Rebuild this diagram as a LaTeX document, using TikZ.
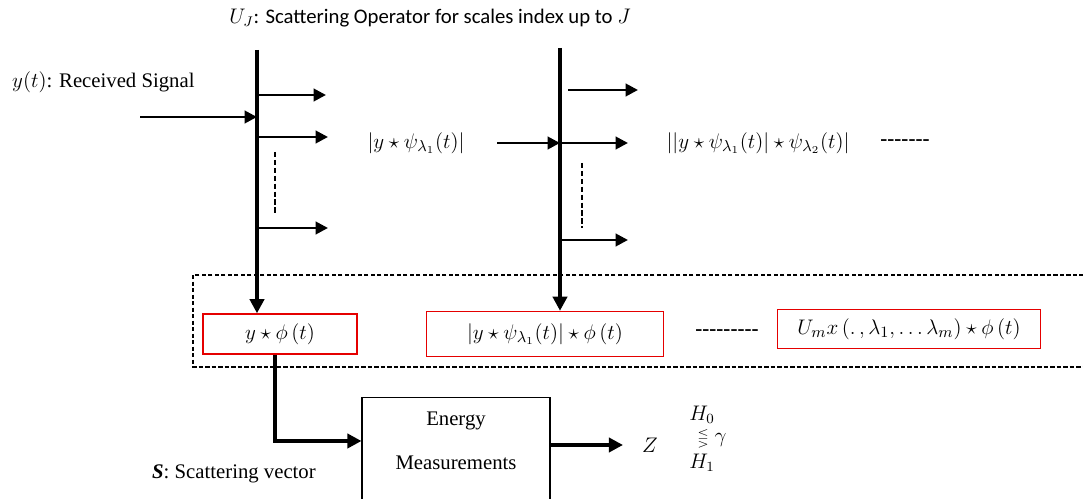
\documentclass[tikz,border=0pt]{standalone}
\usepackage{amssymb}
\usepackage{fontspec}
\setmainfont{Liberation Serif}
\newfontfamily\calib{Carlito}
\usetikzlibrary{arrows.meta,positioning}

\begin{document}
\begin{tikzpicture}[x=0.02cm,y=-0.02cm,font=\fontsize{11.8}{14}\selectfont,
  bar/.style={line width=2.6pt},
  tip/.style={-{Triangle[length=8pt,width=8pt]}},
  branch/.style={line width=1.6pt,-{Triangle[length=7pt,width=7pt]}},
  redbox/.style={draw=red!90!black,line width=0.8pt,inner sep=0pt,font=\fontsize{12.3}{14}\selectfont},
  wave/.style={font=\fontsize{13}{15}\selectfont},
  sep/.style={font=\fontsize{12}{14}\bfseries}]
\clip (0,0) rectangle (1083,499);
% labels
\node[font=\calib\fontsize{11.8}{14}\selectfont] (title) at (430,18) {$U_J$: Scattering Operator for scales index up to $J$};
\node[anchor=west] (recv) at (6,82) {$y(t)$: Received Signal};
\node[anchor=west] (svec) at (146,474) {\textbf{\textit{S}}: Scattering vector};
% first stage
\coordinate (top1) at (257,50);
\coordinate (in1) at (140,117);
\coordinate (b1a) at (257,95);
\coordinate (b1b) at (257,137);
\coordinate (b1c) at (257,228);
\node[wave] (w1) at (416,143) {$\left|y\star\psi_{\lambda_1}(t)\right|$};
% second stage
\coordinate (top2) at (560,48);
\coordinate (in2) at (497,143);
\coordinate (b2a) at (568,90);
\coordinate (b2b) at (560,143);
\coordinate (b2c) at (560,240);
\node[wave] (w2) at (758,143) {$\bigl|\left|y\star\psi_{\lambda_1}(t)\right|\star\psi_{\lambda_2}(t)\bigr|$};
\node[sep] (more1) at (905,143) {-{}-{}-{}-{}-{}-{}-};
% averaged outputs
\node[redbox,minimum width=3.08cm,minimum height=0.8cm] (c1) at (280,334) {$y\star\phi\,(t)$};
\node[redbox,minimum width=4.74cm,minimum height=0.9cm] (c2) at (545,334) {$\left|y\star\psi_{\lambda_1}(t)\right|\star\phi\,(t)$};
\node[sep] (more2) at (727,333) {-{}-{}-{}-{}-{}-{}-{}-{}-};
\node[redbox,minimum width=5.26cm,minimum height=0.78cm] (c3) at (909,329) {$U_m x\,(.\,,\lambda_1,\ldots\lambda_m)\star\phi\,(t)$};
\draw[line width=0.8pt,dash pattern=on 2.5pt off 1.2pt] (1090,275) -- (193,275) -- (193,367) -- (1090,367);
% detector
\node[draw,line width=0.6pt,minimum width=3.76cm,minimum height=2.6cm,anchor=north] (en) at (456,397) {};
\node[align=center] (entxt) at (456,441) {Energy\\[0.4cm]Measurements};
\node[wave] (z) at (650,445) {$Z$};
\node (h0) at (702,415) {$H_0$};
\node (cmp) at (712,439) {\scalebox{0.7}{$\lesseqgtr$}\;$\gamma$};
\node (h1) at (702,463) {$H_1$};
% connectors
\draw[bar,tip] (top1) -- (top1 |- c1.north);
\draw[bar,tip] (top2) -- (top2 |- c2.north);
\draw[branch] (in1) -- (in1 -| top1);
\draw[branch] (in2) -- (in2 -| top2);
\draw[branch] (b1a) -- ++(69,0);
\draw[branch] (b1b) -- ++(71,0);
\draw[branch] (b1c) -- ++(71,0);
\draw[branch] (b2a) -- ++(70,0);
\draw[branch] (b2b) -- ++(68,0);
\draw[branch] (b2c) -- ++(68,0);
\draw[line width=1.5pt,dash pattern=on 3pt off 1.5pt] (275,152) -- (275,215);
\draw[line width=1.5pt,dash pattern=on 3pt off 1.5pt] (582,163) -- (582,228);
\draw[bar,tip] (c1.south -| 275,0) |- (en.west |- 0,441);
\draw[bar,tip] (en.east |- 0,445) -- (623,445);
\end{tikzpicture}
\end{document}
